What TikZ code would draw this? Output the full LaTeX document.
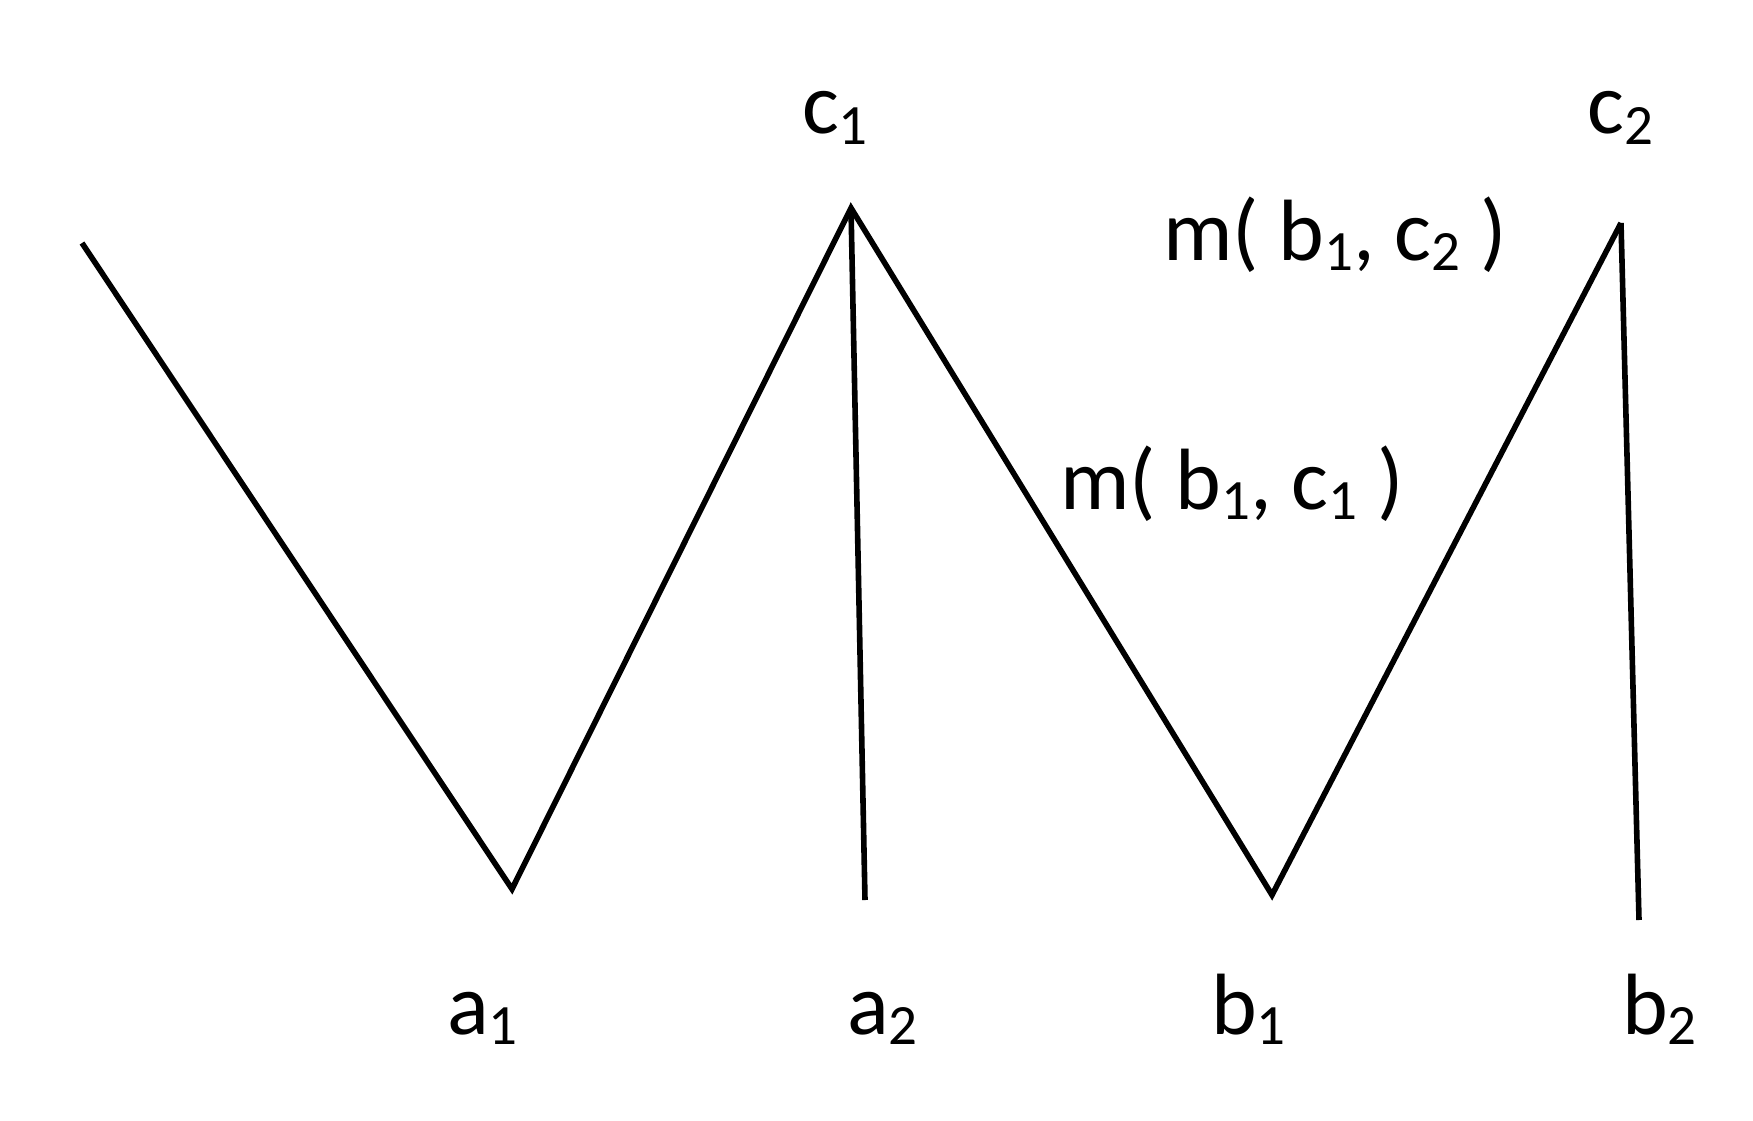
\documentclass[tikz,border=0pt]{standalone}
\usepackage{fontspec}
\setmainfont{Carlito}
\newcommand{\lsub}[1]{\raisebox{-10pt}{\fontsize{57}{62}\selectfont #1}}
\begin{document}
\begin{tikzpicture}[x=1pt,y=-1pt,
  edge/.style={line width=5.6pt,line join=miter,line cap=butt},
  lab/.style={anchor=base west,inner sep=0pt,font=\fontsize{87}{100}\selectfont}]
\useasboundingbox (0,0) rectangle (1753,1121);
\coordinate (s) at (82,243);
\coordinate (a1v) at (512,889);
\coordinate (c1v) at (851,208);
\coordinate (a2v) at (865,900);
\coordinate (b1v) at (1272,895);
\coordinate (c2v) at (1621,223);
\coordinate (b2v) at (1639,920);
\draw[edge] (s) -- (a1v) -- (c1v) -- (b1v) -- (c2v);
\draw[edge] (c1v) -- (a2v);
\draw[edge] (c2v) -- (b2v);
\node[lab] (c1) at (802,134) {c\lsub{1}};
\node[lab] (c2) at (1587,134) {c\lsub{2}};
\node[lab] (mbc2) at (1163,260) {m( b\lsub{1}, c\lsub{2} )};
\node[lab] (mbc1) at (1060,509) {m( b\lsub{1}, c\lsub{1} )};
\node[lab] (a1) at (447,1034) {a\lsub{1}};
\node[lab] (a2) at (847,1034) {a\lsub{2}};
\node[lab] (b1) at (1211,1034) {b\lsub{1}};
\node[lab] (b2) at (1622,1034) {b\lsub{2}};
\end{tikzpicture}
\end{document}
